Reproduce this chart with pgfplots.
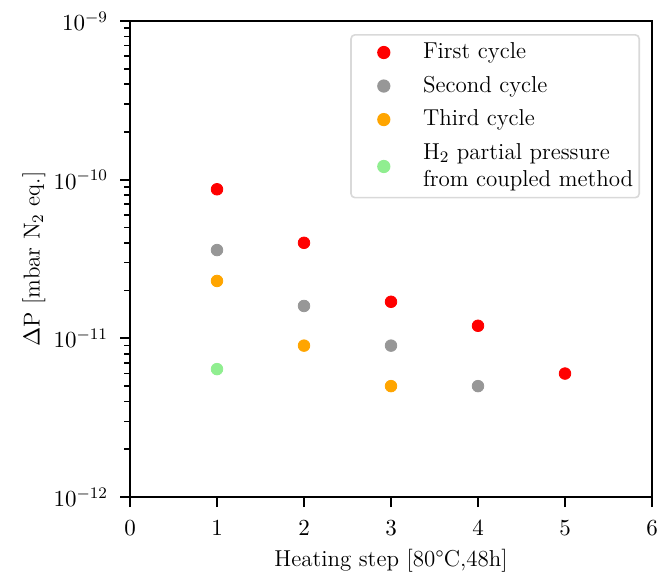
\documentclass[border=0pt]{standalone}
\usepackage{fix-cm}
\usepackage{pgfplots}
\pgfplotsset{compat=1.18}
\definecolor{cgray}{HTML}{979797}
\definecolor{corange}{HTML}{FFA500}
\definecolor{cgreen}{HTML}{90EE90}
\begin{document}
\fontsize{11.5}{14}\selectfont
\begin{tikzpicture}
\begin{axis}[
  name=ax,
  scale only axis, width=261pt, height=238pt,
  xmin=0, xmax=6, ymode=log, ymin=1e-12, ymax=1e-9,
  xtick={0,1,2,3,4,5,6},
  ytick={1e-12,1e-11,1e-10,1e-9},
  tick pos=left, tick align=outside,
  major tick length=5pt, minor tick length=3pt,
  axis line style={line width=1.1pt},
  every tick/.style={black, line width=1.1pt},
  every minor tick/.style={black, line width=0.8pt},
  xticklabel style={yshift=-3pt},
  yticklabel style={xshift=-2pt},
  xlabel={Heating step [80\textdegree C,48h]},
  ylabel={$\Delta$P [mbar N$_2$ eq.]},
  every axis x label/.style={at={(axis description cs:0.5,0)}, anchor=base, yshift=-34.5pt},
  every axis y label/.style={at={(axis description cs:0,0.5)}, rotate=90, anchor=center, yshift=48pt},
  legend style={
    at={(axis description cs:1,1)}, anchor=north east, xshift=-6pt, yshift=-6.5pt,
    draw=black!15, line width=0.8pt, rounded corners=2pt, fill=white,
    inner xsep=1pt, inner ysep=0.5pt,
    font=\fontsize{11.5}{13.5}\selectfont,
    nodes={inner ysep=3.5pt},
    cells={align=left},
    /tikz/every odd column/.append style={column sep=9.2pt},
  },
  legend cell align=left,
  legend image code/.code={\path (0pt,0pt) (23pt,0pt); \draw[#1] plot coordinates {(15pt,0pt)};},
]
\addplot[only marks, mark=*, mark size=2.9pt, color=red] coordinates {
  (1,8.7e-11) (2,4.0e-11) (3,1.7e-11) (4,1.2e-11) (5,6.0e-12)};
\addlegendentry{First cycle}
\addplot[only marks, mark=*, mark size=2.9pt, color=cgray] coordinates {
  (1,3.6e-11) (2,1.6e-11) (3,9.0e-12) (4,5.0e-12)};
\addlegendentry{Second cycle}
\addplot[only marks, mark=*, mark size=2.9pt, color=corange] coordinates {
  (1,2.3e-11) (2,9.0e-12) (3,5.0e-12)};
\addlegendentry{Third cycle}
\addplot[only marks, mark=*, mark size=2.9pt, color=cgreen] coordinates {
  (1,6.4e-12)};
\addlegendentry{H$_2$ partial pressure\\from coupled method\rule[-3.5pt]{0pt}{3.5pt}}
\end{axis}
\pgfresetboundingbox
\path ([xshift=-65pt,yshift=-39.5pt]ax.south west) rectangle ([xshift=8pt,yshift=10.5pt]ax.north east);
\end{tikzpicture}
\end{document}
